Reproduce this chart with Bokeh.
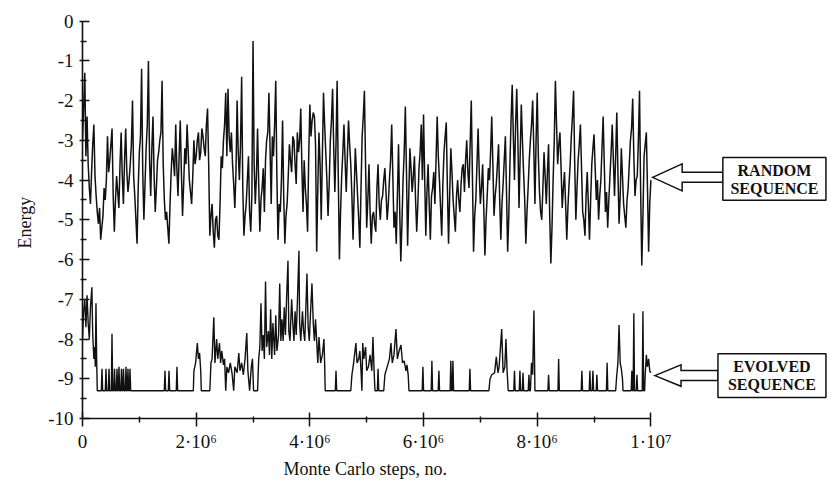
import numpy as np
from bokeh.plotting import figure
from bokeh.models import Range1d, FixedTicker, Title
from bokeh.core.properties import value
from bokeh.embed import file_html
from bokeh.resources import INLINE

# ---------------- data ----------------
# Random sequence: energy sampled every 20,000 Monte Carlo steps (0 .. 1e7)
random_energy = [
    -3.0, -2.2, -1.3, -3.4, -2.4, -3.6, -4.2, -4.6, -3.8, -3.1, -2.6, -3.9, -4.4, -4.8, -5.1, -4.7, -5.5, -5.2, -4.9, -4.2,
    -4.5, -4.0, -2.9, -3.8, -3.5, -3.1, -2.7, -4.4, -5.3, -4.5, -3.9, -4.3, -4.7, -3.6, -2.8, -3.9, -4.6, -3.5, -2.7, -3.8,
    -4.3, -4.0, -3.6, -3.1, -2.0, -3.9, -4.4, -5.0, -5.6, -4.2,
    -3.3, -2.9, -1.2, -3.8, -5.0, -4.1, -3.2, -2.6, -1.0, -3.5, -4.4, -3.2, -2.4, -3.9, -4.8, -4.2, -3.5, -3.3, -3.0, -2.8,
    -1.5, -3.6, -4.5, -5.0, -4.8, -5.2, -5.6, -4.6, -3.8, -3.2, -3.5, -3.9, -2.6, -3.7, -4.4, -3.4, -2.5, -3.8, -4.9, -4.1,
    -3.2, -3.6, -2.6, -3.3, -4.0, -4.3, -4.6, -3.9, -3.0, -3.6,
    -3.4, -3.0, -2.8, -3.5, -3.3, -2.7, -2.9, -3.2, -3.4, -2.6, -2.2, -3.6, -5.4, -4.9, -4.6, -5.3, -5.7, -5.0, -4.9, -5.4,
    -5.5, -4.6, -3.4, -3.7, -3.0, -2.6, -1.8, -3.4, -1.7, -2.9, -3.3, -2.8, -3.6, -4.1, -4.7, -3.8, -2.0, -3.3, -4.0, -3.1,
    -1.4, -4.2, -5.4, -4.9, -4.6, -4.0, -3.4, -4.8, -5.3, -4.4,
    -0.5, -3.6, -4.6, -3.9, -2.7, -4.1, -5.3, -4.5, -4.2, -3.7, -4.8, -3.5, -3.0, -2.8, -1.8, -3.2, -4.6, -2.9, -3.4, -2.6,
    -1.5, -3.9, -5.5, -4.6, -4.8, -4.0, -2.5, -4.4, -5.6, -4.9, -4.6, -3.9, -3.1, -3.5, -3.8, -2.9, -3.0, -3.6, -4.1, -2.8,
    -3.3, -3.0, -2.2, -3.7, -4.8, -3.5, -4.2, -4.6, -5.3, -3.4,
    -2.1, -2.9, -2.5, -2.3, -2.4, -3.1, -5.8, -4.2, -2.8, -3.6, -5.0, -3.4, -1.8, -2.6, -3.3, -4.0, -4.9, -4.1, -3.0, -2.5,
    -1.7, -3.2, -4.3, -3.1, -1.5, -3.9, -6.0, -4.8, -3.9, -3.3, -2.6, -3.5, -4.3, -3.4, -2.5, -3.1, -3.6, -4.4, -5.5, -4.3,
    -3.2, -3.8, -4.4, -5.0, -5.7, -4.2, -2.9, -2.4, -1.75, -3.6,
    -5.2, -4.5, -3.6, -4.8, -5.6, -4.9, -4.8, -5.1, -5.3, -4.2, -3.6, -4.6, -5.0, -4.5, -4.4, -4.0, -3.7, -4.3, -5.0, -4.6,
    -4.0, -3.5, -2.6, -3.9, -5.2, -4.8, -5.6, -4.4, -3.1, -4.7, -6.05, -5.1, -4.0, -3.3, -2.15, -3.8, -5.65, -4.4, -3.2, -3.7,
    -4.3, -3.9, -3.4, -4.5, -5.3, -4.6, -3.7, -3.3, -2.6, -4.0,
    -2.35, -3.9, -5.4, -4.3, -3.6, -4.6, -5.5, -4.4, -4.2, -3.8, -4.6, -3.5, -2.4, -3.4, -4.0, -4.7, -5.4, -4.1, -3.3, -2.9,
    -2.55, -4.2, -5.6, -4.4, -3.2, -3.8, -4.5, -4.9, -5.3, -4.4, -4.0, -4.5, -4.8, -4.1, -3.7, -3.6, -4.3, -3.5, -3.0, -3.8,
    -4.2, -3.1, -2.0, -3.9, -5.8, -4.9, -4.5, -3.6, -2.7, -3.8,
    -4.6, -4.2, -3.6, -4.7, -5.9, -5.0, -4.4, -3.7, -4.0, -3.3, -2.4, -3.6, -4.9, -4.4, -4.1, -3.6, -3.1, -4.5, -5.5, -4.6,
    -4.1, -3.5, -2.9, -4.3, -5.8, -4.9, -3.6, -2.5, -1.6, -2.9, -4.0, -2.6, -1.7, -3.0, -4.7, -3.4, -2.1, -3.0, -3.8, -4.5,
    -5.6, -4.8, -4.2, -3.5, -3.0, -2.6, -2.0, -3.2, -4.6, -3.0,
    -1.8, -3.4, -4.3, -4.8, -5.0, -4.2, -3.3, -3.9, -4.6, -3.8, -3.1, -4.9, -6.1, -5.2, -4.0, -3.0, -1.5, -2.6, -3.6, -3.1,
    -2.8, -3.7, -4.7, -4.2, -3.8, -4.6, -5.5, -4.7, -4.1, -3.6, -2.9, -2.4, -1.75, -3.6, -5.0, -4.2, -3.5, -3.1, -2.6, -3.7,
    -4.8, -5.0, -5.4, -4.4, -3.8, -4.6, -5.5, -4.5, -3.6, -3.2,
    -2.85, -3.7, -4.5, -4.0, -5.0, -4.4, -4.0, -3.2, -2.4, -3.6, -4.8, -4.3, -5.2, -4.5, -3.9, -3.3, -2.6, -3.5, -4.4, -3.4,
    -2.3, -3.8, -5.1, -4.4, -3.2, -3.9, -4.6, -4.9, -5.2, -4.5, -4.2, -3.6, -3.0, -2.7, -1.95, -3.4, -4.4, -4.0, -3.9, -3.0,
    -1.75, -4.3, -6.15, -4.9, -3.4, -3.1, -2.8, -4.2, -5.8, -4.6,
    -4.0,
]
random_steps = np.linspace(0, 1e7, len(random_energy))

# Evolved sequence: active stretches (millions of steps, energy)
evo_seg_msteps = [
    0.00, 0.02, 0.04, 0.06, 0.08, 0.10, 0.12, 0.14, 0.165, 0.18, 0.20, 0.215, 0.225, 0.237, 0.25, 0.26,
    1.95, 1.96, 1.99, 2.02, 2.04, 2.06, 2.08, 2.09,
    2.24, 2.26, 2.28, 2.31, 2.33, 2.36, 2.38, 2.41, 2.43, 2.45, 2.48, 2.50, 2.52, 2.54, 2.57, 2.60,
    2.63, 2.66, 2.68, 2.72, 2.75, 2.77, 2.80, 2.83, 2.86, 2.89, 2.91, 2.94, 2.97, 2.99, 3.01,
    3.08, 3.10, 3.12, 3.14, 3.16, 3.18, 3.20, 3.22, 3.24, 3.27, 3.29, 3.31, 3.33, 3.35, 3.38, 3.40,
    3.42, 3.45, 3.47, 3.49, 3.51, 3.53, 3.55, 3.57, 3.59, 3.615, 3.63, 3.65, 3.68, 3.70, 3.72, 3.74,
    3.76, 3.78, 3.808, 3.82, 3.84, 3.87, 3.89, 3.91, 3.93, 3.949, 3.97, 3.99, 4.01, 4.037, 4.06, 4.08,
    4.10, 4.12, 4.14, 4.16, 4.19, 4.22, 4.248, 4.26, 4.27,
    4.72, 4.74, 4.77, 4.81, 4.83, 4.86, 4.88, 4.90, 4.916, 4.93, 4.95, 4.98, 5.00, 5.03, 5.06, 5.09,
    5.11, 5.13, 5.146,
    5.30, 5.32, 5.36, 5.40, 5.427, 5.45, 5.48, 5.515, 5.54, 5.57, 5.603, 5.63, 5.66, 5.69, 5.708,
    5.73, 5.744,
    7.15, 7.17, 7.20, 7.25, 7.28, 7.31, 7.33, 7.375, 7.40, 7.43, 7.45, 7.47, 7.49,
    7.88, 7.90, 7.92, 7.942, 7.96,
    9.38, 9.40, 9.42, 9.44, 9.46, 9.48, 9.50, 9.51,
    9.89, 9.90, 9.92, 9.94, 9.96, 9.98, 10.0,
]
evo_seg_energy = [
    -8.0, -7.3, -7.0, -7.7, -6.9, -7.6, -8.0, -7.2, -6.7, -7.9, -8.5, -8.2, -8.7, -7.1, -8.6, -9.3,
    -9.3, -8.8, -8.6, -8.1, -8.5, -8.35, -8.8, -9.3,
    -9.3, -8.6, -8.5, -7.45, -8.6, -8.0, -8.5, -8.1, -8.6, -8.3, -8.65, -8.5, -9.3, -8.7, -8.85, -8.6,
    -8.85, -9.3, -8.7, -8.85, -8.35, -8.8, -8.6, -8.9, -8.5, -7.85, -8.8, -9.3, -8.7, -8.5, -9.3,
    -9.3, -8.5, -8.2, -7.1, -8.3, -7.9, -8.5, -6.55, -8.2, -7.8, -8.4, -7.25, -8.5, -7.6, -8.4, -7.4,
    -8.3, -7.9, -6.6, -8.05, -7.5, -8.05, -7.2, -7.9, -7.0, -6.03, -7.8, -8.05, -7.0, -7.6, -8.05, -7.3,
    -7.9, -7.1, -5.78, -7.6, -8.05, -7.3, -7.8, -8.05, -7.2, -6.35, -7.7, -8.05, -7.4, -6.6, -7.6, -8.05,
    -7.5, -8.05, -8.6, -7.95, -8.6, -8.4, -8.0, -8.6, -9.3,
    -9.3, -8.9, -8.6, -8.1, -8.6, -8.5, -8.3, -8.8, -9.3, -8.1, -8.5, -8.2, -8.8, -8.7, -8.4, -8.8,
    -7.95, -8.8, -9.3,
    -9.3, -8.9, -8.7, -8.5, -8.1, -8.6, -8.4, -7.75, -8.5, -8.3, -8.15, -8.6, -8.55, -8.8, -8.65,
    -8.9, -9.3,
    -9.3, -9.0, -8.9, -8.85, -8.45, -8.85, -8.7, -7.75, -8.85, -8.7, -8.0, -8.8, -9.3,
    -9.3, -8.6, -8.9, -7.28, -9.3,
    -9.3, -8.9, -8.6, -7.65, -8.6, -8.75, -9.0, -9.3,
    -9.3, -8.9, -8.4, -8.7, -8.5, -8.8, -8.85,
]
# Evolved sequence: isolated excursions from the ground state
evo_spike_msteps = [0.343, 0.413, 0.466, 0.519, 0.563, 0.607, 0.642, 0.686, 0.721, 0.765, 0.80, 0.836,
                    1.451, 1.522, 1.662, 4.46, 5.20, 5.989, 6.147, 6.27, 6.48, 6.517, 6.816,
                    7.60, 7.696, 7.75, 7.854, 8.20, 8.377, 8.786, 8.927, 8.98, 9.05, 9.23,
                    9.665, 9.70, 9.755, 9.86]
evo_spike_energy = [-8.75, -8.75, -8.75, -7.87, -8.75, -8.75, -8.7, -8.75, -8.75, -8.7, -8.75, -8.75,
                    -8.8, -8.8, -8.7, -8.8, -8.75, -8.7, -8.55, -8.8, -8.55, -8.55, -8.75,
                    -8.8, -8.8, -8.85, -8.9, -8.9, -8.5, -8.8, -8.8, -8.8, -8.9, -8.6,
                    -8.8, -7.35, -8.9, -7.3]
EVO_GROUND = -9.3

x_tick_values = [0.0, 2e6, 4e6, 6e6, 8e6, 1e7]
x_tick_labels = ["0", "2\u00b710\u2076", "4\u00b710\u2076", "6\u00b710\u2076", "8\u00b710\u2076", "1\u00b710\u2077"]
x_minor_values = [1e6, 3e6, 5e6, 7e6, 9e6]
y_tick_values = list(range(-10, 1))
y_tick_labels = ["-10", "-9", "-8", "-7", "-6", "-5", "-4", "-3", "-2", "-1", "0"]
y_minor_values = [v + 0.5 for v in range(-10, 0)]

# ---------------- build evolved polyline ----------------
SPIKE_HALF = 0.012
pts = list(zip(evo_seg_msteps, evo_seg_energy))
for m, e in zip(evo_spike_msteps, evo_spike_energy):
    pts += [(m - SPIKE_HALF, EVO_GROUND), (m, e), (m + SPIKE_HALF, EVO_GROUND)]
pts.sort(key=lambda t: t[0])
evo_x = [t[0] * 1e6 for t in pts]
evo_y = [t[1] for t in pts]

# ---------------- figure ----------------
FONT = "Liberation Serif"
INK = "#111111"

p = figure(width=830, height=487, x_range=Range1d(0, 13.16e6), y_range=Range1d(-10, 0.52),
           output_backend="svg", toolbar_location=None, title=None,
           min_border_left=82, min_border_right=0, min_border_top=0, min_border_bottom=69)
p.outline_line_color = None
p.grid.visible = False
p.background_fill_color = "white"
p.border_fill_color = "white"

xa = p.xaxis[0]
xa.bounds = (0, 1e7)
xa.ticker = FixedTicker(ticks=x_tick_values, minor_ticks=x_minor_values)
xa.major_label_overrides = dict(zip(x_tick_values, x_tick_labels))
xa.major_tick_in = 6
xa.major_tick_out = 8
xa.minor_tick_in = 2
xa.minor_tick_out = 4
xa.major_label_standoff = 4

ya = p.yaxis[0]
ya.bounds = (-10, 0)
ya.ticker = FixedTicker(ticks=y_tick_values, minor_ticks=y_minor_values)
ya.major_label_overrides = dict(zip(y_tick_values, y_tick_labels))
ya.major_tick_in = 7
ya.major_tick_out = 3
ya.minor_tick_in = 4
ya.minor_tick_out = 2
ya.major_label_standoff = 6

for ax in (xa, ya):
    ax.axis_line_color = INK
    ax.axis_line_width = 1.6
    ax.major_tick_line_color = INK
    ax.major_tick_line_width = 1.5
    ax.minor_tick_line_color = INK
    ax.minor_tick_line_width = 1.5
    ax.major_label_text_font = FONT
    ax.major_label_text_font_size = "19px"
    ax.major_label_text_color = INK

# axis titles (as side titles so they are not clipped)
p.add_layout(Title(text="Monte Carlo steps, no.", align="left", offset=201, standoff=4,
                   text_font=FONT, text_font_size="18px", text_font_style="normal",
                   text_color=INK), "below")
p.add_layout(Title(text="Energy", align="left", offset=170, standoff=21,
                   text_font=FONT, text_font_size="18px", text_font_style="normal",
                   text_color=INK), "left")

# series
p.line(random_steps, random_energy, line_color=INK, line_width=1.5)
p.line(evo_x, evo_y, line_color=INK, line_width=1.4)

# callout boxes with hollow arrows
def hollow_arrow(tip_x, y, head_x, tail_x, head_h, shaft_h):
    xs = [tip_x, head_x, head_x, tail_x, tail_x, head_x, head_x]
    ys = [y, y + head_h, y + shaft_h, y + shaft_h, y - shaft_h, y - shaft_h, y - head_h]
    p.patch(xs, ys, fill_color="white", line_color=INK, line_width=1.5, line_join="miter")

callouts = [
    # tip_x, arrow_y, head_x, box_left, box_right, box_top, box_bottom, head_h, line1, line2
    (10.03e6, -3.93, 10.55e6, 11.266e6, 13.08e6, -3.43, -4.51, 0.34, "RANDOM", "SEQUENCE"),
    (10.07e6, -8.92, 10.53e6, 11.18e6, 13.08e6, -8.37, -9.47, 0.27, "EVOLVED", "SEQUENCE"),
]
for tip_x, ay, hx, bl, br, bt, bb, hh, t1, t2 in callouts:
    hollow_arrow(tip_x, ay, hx, bl, hh, 0.125)
    p.quad(left=[bl], right=[br], top=[bt], bottom=[bb], fill_color="white",
           line_color=INK, line_width=1.5)
    cx = (bl + br) / 2
    cy = (bt + bb) / 2
    p.text(x=[cx, cx], y=[cy + 0.22, cy - 0.23], text=[t1, t2], text_align="center",
           text_baseline="middle", text_font=value(FONT), text_font_style="bold",
           text_font_size="16px", text_color=INK)

open("out.html", "w").write(file_html(p, INLINE))
